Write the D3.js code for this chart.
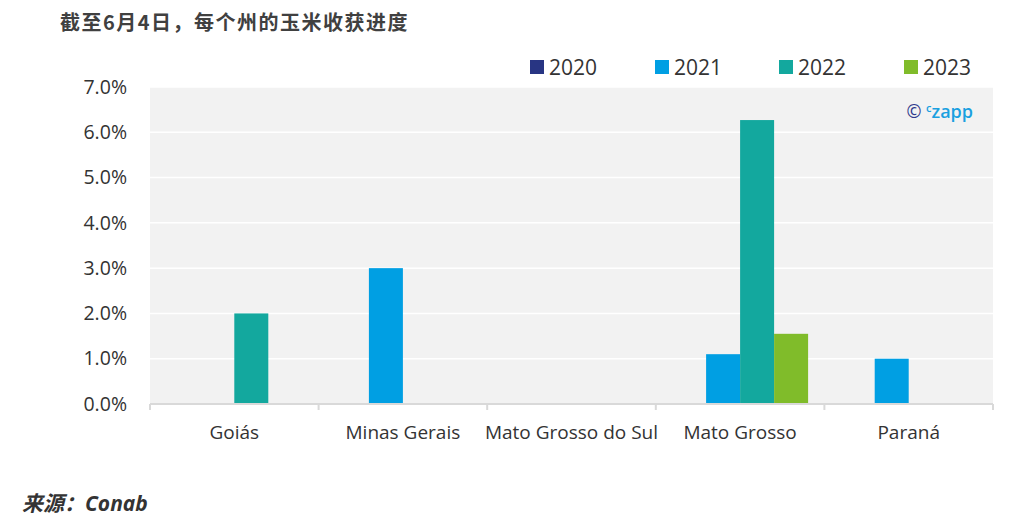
<!DOCTYPE html>
<html><head><meta charset="utf-8">
<script src="https://cdn.jsdelivr.net/npm/d3@7"></script>
<style>body{margin:0;background:#fff;}svg{display:block;}</style>
</head><body>
<svg id="c" width="1034" height="531"></svg>
<script>
const categories = ["Goiás","Minas Gerais","Mato Grosso do Sul","Mato Grosso","Paraná"];
const seriesNames = ["2020","2021","2022","2023"];
const seriesColors = ["#283583","#009fe3","#13a89e","#80bc2a"];
const v2020 = [0,0,0,0,0];
const v2021 = [0,3.0,0,1.1,1.0];
const v2022 = [2.0,0,0,6.27,0];
const v2023 = [0,0,0,1.55,0];
const yTicks = [0,1,2,3,4,5,6,7];
const title = "截至6月4日，每个州的玉米收获进度";
const source = "来源：Conab";

const values = [v2020,v2021,v2022,v2023];
const svg = d3.select("#c");
const m = {l:150, r:993, t:87, b:404};
const font = "'Open Sans','Noto Sans',sans-serif";

svg.append("rect").attr("x",m.l).attr("y",m.t).attr("width",m.r-m.l).attr("height",m.b-m.t).attr("fill","#f2f2f2");

const x = d3.scaleBand().domain(categories).range([m.l,m.r]);
const xs = d3.scaleBand().domain(seriesNames).range([0,136]);
const y = d3.scaleLinear().domain([0,7]).range([m.b,m.t]);

// gridlines
svg.append("g").selectAll("line").data(yTicks.filter(d=>d>0)).join("line")
  .attr("x1",m.l).attr("x2",m.r).attr("y1",d=>y(d)).attr("y2",d=>y(d))
  .attr("stroke","#ffffff").attr("stroke-width",1.5);

// bars
seriesNames.forEach((s,si)=>{
  svg.append("g").selectAll("rect").data(categories.map((c,ci)=>({c,v:values[si][ci]})).filter(d=>d.v>0)).join("rect")
    .attr("x",d=>x(d.c)+x.bandwidth()/2-68+xs(s))
    .attr("width",xs.bandwidth())
    .attr("y",d=>y(d.v)).attr("height",d=>m.b-y(d.v))
    .attr("fill",seriesColors[si]);
});

// y axis labels
const yAxis = d3.axisLeft(y).tickValues(yTicks).tickFormat(d=>d.toFixed(1)+"%").tickSize(0).tickPadding(23);
const ya = svg.append("g").attr("transform",`translate(${m.l},0)`).call(yAxis);
ya.select(".domain").remove();
ya.selectAll("text").attr("font-family",font).attr("font-size",19.5).attr("fill","#333");

// x axis
const xa = svg.append("g").attr("transform",`translate(0,${m.b})`);
xa.append("line").attr("x1",m.l).attr("x2",m.r).attr("stroke","#d9d9d9").attr("stroke-width",2);
const bounds = categories.map(c=>x(c)).concat([m.r]);
xa.selectAll("line.tk").data(bounds).join("line").attr("class","tk")
  .attr("x1",d=>d).attr("x2",d=>d).attr("y1",0).attr("y2",6).attr("stroke","#d9d9d9").attr("stroke-width",2);
xa.selectAll("text").data(categories).join("text")
  .attr("x",d=>x(d)+x.bandwidth()/2).attr("y",35).attr("text-anchor","middle")
  .attr("font-family",font).attr("font-size",19).attr("fill","#333").text(d=>d);

// legend
const legX = [530,655,779,904];
const lg = svg.append("g").selectAll("g").data(seriesNames).join("g")
  .attr("transform",(d,i)=>`translate(${legX[i]},60)`);
lg.append("rect").attr("width",14).attr("height",14).attr("fill",(d,i)=>seriesColors[i]);
lg.append("text").attr("x",19).attr("y",14.5).attr("font-family",font).attr("font-size",21).attr("fill","#333").text(d=>d);

// watermark
const wm = svg.append("text").attr("x",973).attr("y",118).attr("text-anchor","end").attr("font-family",font).attr("font-weight",600);
wm.append("tspan").attr("fill","#2e3a8c").attr("font-size",18).attr("font-weight",400).text("© ");
wm.append("tspan").attr("fill","#1aa0e0").attr("font-size",11).attr("dy",-6).text("c");
wm.append("tspan").attr("fill","#1aa0e0").attr("font-size",18).attr("dy",6).text("zapp");

// title
svg.append("text").attr("x",60).attr("y",30).attr("font-family","'Noto Sans CJK SC',sans-serif").attr("font-weight",700)
  .attr("font-size",20).attr("letter-spacing",1.5).attr("fill","#404040").text(title);
// source
svg.append("text").attr("x",22).attr("y",511).attr("font-family","'Open Sans','Noto Sans CJK SC',sans-serif").attr("font-weight",700)
  .attr("font-style","italic").attr("font-size",21).attr("fill","#333").text(source);
</script>
</body></html>
